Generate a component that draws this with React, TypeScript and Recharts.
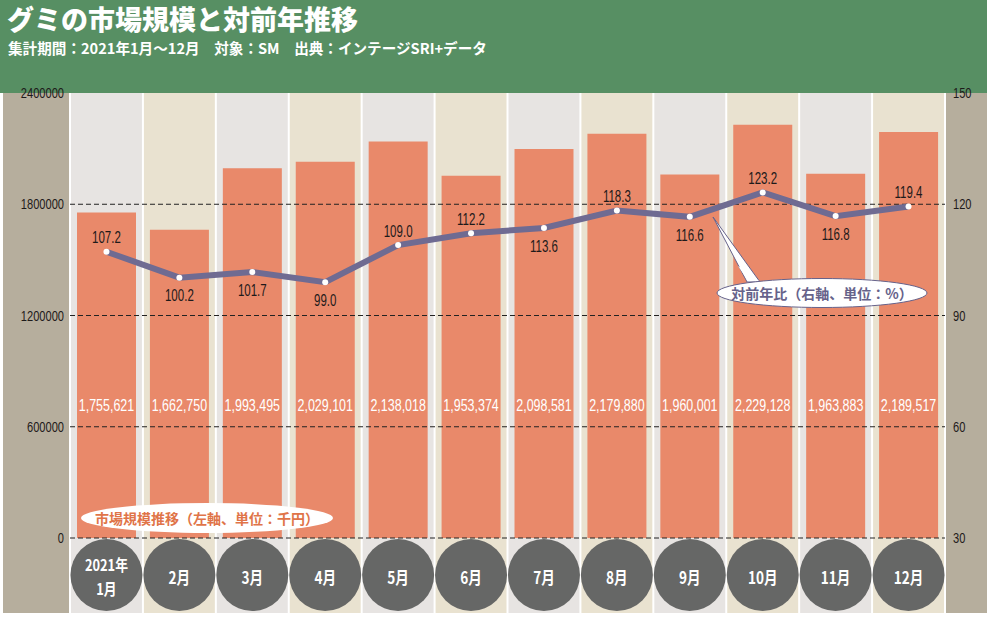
import React from "react";
import {
  ComposedChart,
  Bar,
  Line,
  XAxis,
  YAxis,
  ReferenceArea,
  ReferenceLine,
  LabelList,
} from "recharts";

// data
const months = ["1月", "2月", "3月", "4月", "5月", "6月", "7月", "8月", "9月", "10月", "11月", "12月"];
const marketSize = [
  1755621, 1662750, 1993495, 2029101, 2138018, 1953374, 2098581, 2179880, 1960001, 2229128,
  1963883, 2189517,
];
const yoyRatio = [107.2, 100.2, 101.7, 99.0, 109.0, 112.2, 113.6, 118.3, 116.6, 123.2, 116.8, 119.4];
const leftTicks = [0, 600000, 1200000, 1800000, 2400000];
const rightTicks = [30, 60, 90, 120, 150];
// dashed guides: every left tick except the top edge
const gridTicks = [0, 600000, 1200000, 1800000];

// which side of the dot each ratio label sits on
const ratioLabelAbove = [true, false, false, false, true, true, false, true, false, true, false, true];

const W = 987;
const H = 618;
const HEADER_H = 93;
const ZERO_Y = 538;
const PLOT_BOTTOM = 613;

// the plot runs below the zero line to make room for the month circles
const below = (PLOT_BOTTOM - ZERO_Y) / (ZERO_Y - HEADER_H);
const leftDomain = [-below * 2400000, 2400000];
const rightDomain = [30 - below * 120, 150];

const NUM_FONT = "'Liberation Sans', Arial, sans-serif";
const JP_FONT = "'Noto Sans CJK JP', 'Noto Sans', sans-serif";

const BAR_COLOR = "#e9896a";
const LINE_COLOR = "#6f6b92";
const INK = "#1e1a1a";

const chartData = months.map((m, i) => ({
  month: m,
  size: marketSize[i],
  ratio: yoyRatio[i],
}));

function monthLines(i: number): string[] {
  return i === 0 ? ["2021年", months[0]] : [months[i]];
}

// condensed text: no narrow face is installed, so squeeze horizontally
function Narrow(props: {
  x: number;
  y: number;
  sx: number;
  anchor: "start" | "middle" | "end";
  size: number;
  fill: string;
  children: React.ReactNode;
  weight?: number;
  family?: string;
}) {
  return (
    <text
      transform={`translate(${props.x},${props.y}) scale(${props.sx},1)`}
      textAnchor={props.anchor}
      dominantBaseline="central"
      fill={props.fill}
      fontFamily={props.family ?? NUM_FONT}
      fontWeight={props.weight ?? 400}
      fontSize={props.size}
    >
      {props.children}
    </text>
  );
}

function LeftTick(props: any) {
  const { x, y, payload } = props;
  return (
    <Narrow x={x} y={y} sx={0.74} anchor="end" size={15} fill={INK}>
      {payload.value}
    </Narrow>
  );
}

function RightTick(props: any) {
  const { x, y, payload } = props;
  return (
    <Narrow x={x} y={y} sx={0.74} anchor="start" size={15} fill={INK}>
      {payload.value}
    </Narrow>
  );
}

function ColumnShape(props: any) {
  const { x, y, width, height, index } = props;
  const cx = x + width / 2;
  const cy = y + height - 38;
  const lines = monthLines(index);
  const two = lines.length > 1;
  return (
    <g>
      <rect
        x={x + 1}
        y={y}
        width={width - 2}
        height={height}
        fill={index % 2 === 0 ? "#e7e4e2" : "#e9e2d0"}
      />
      <circle cx={cx} cy={cy} r={36} fill="#666766" />
      {lines.map((t, k) => (
        <Narrow
          key={k}
          x={cx}
          y={cy + (!two ? 1 : k === 0 ? -11 : 12.5)}
          sx={0.8}
          anchor="middle"
          size={two ? 16 : 17}
          fill="#fff"
          weight={700}
          family={JP_FONT}
        >
          {t}
        </Narrow>
      ))}
    </g>
  );
}

function SizeLabel(props: any) {
  const { x, y, width, height, value } = props;
  return (
    <Narrow x={x + width / 2} y={y + height - 133} sx={0.78} anchor="middle" size={16} fill="#fff">
      {Number(value).toLocaleString("en-US")}
    </Narrow>
  );
}

function RatioLabel(props: any) {
  const { x, y, value, index } = props;
  const above = ratioLabelAbove[index];
  return (
    <Narrow x={x} y={above ? y - 14 : y + 18} sx={0.72} anchor="middle" size={16} fill={INK}>
      {Number(value).toFixed(1)}
    </Narrow>
  );
}

export default function App() {
  return (
    <div
      style={{
        position: "absolute",
        left: 0,
        top: 0,
        width: W,
        height: H,
        background: "#fff",
        overflow: "hidden",
      }}
    >
      <div
        style={{
          position: "absolute",
          left: 0,
          top: 0,
          width: W,
          height: HEADER_H,
          background: "#578f63",
          color: "#fff",
          fontFamily: JP_FONT,
          fontWeight: 900,
        }}
      >
        <div style={{ position: "absolute", left: 7, top: 1, fontSize: 27, lineHeight: "36px", whiteSpace: "nowrap" }}>
          グミの市場規模と対前年推移
        </div>
        <div
          style={{
            position: "absolute",
            left: 8,
            top: 38,
            fontSize: 14.6,
            fontWeight: 700,
            lineHeight: "20px",
            whiteSpace: "nowrap",
          }}
        >
          集計期間：2021年1月～12月　対象：SM　出典：インテージSRI+データ
        </div>
      </div>
      <div
        style={{
          position: "absolute",
          left: 3,
          top: HEADER_H,
          width: 66,
          height: PLOT_BOTTOM - HEADER_H,
          background: "#b6ae9d",
        }}
      />
      <div
        style={{
          position: "absolute",
          left: 946,
          top: HEADER_H,
          width: W - 946,
          height: PLOT_BOTTOM - HEADER_H,
          background: "#b6ae9d",
        }}
      />
      <div style={{ position: "absolute", left: 0, top: 0 }}>
        <ComposedChart
          width={W}
          height={H}
          data={chartData}
          margin={{ top: HEADER_H, right: 0, bottom: H - PLOT_BOTTOM, left: 0 }}
        >
          <XAxis dataKey="month" hide />
          <YAxis
            yAxisId="left"
            width={70}
            domain={leftDomain}
            ticks={leftTicks}
            allowDataOverflow
            axisLine={false}
            tickLine={false}
            tickSize={0}
            tickMargin={6}
            tick={LeftTick}
          />
          <YAxis
            yAxisId="right"
            orientation="right"
            width={42}
            domain={rightDomain}
            ticks={rightTicks}
            allowDataOverflow
            axisLine={false}
            tickLine={false}
            tickSize={0}
            tickMargin={8}
            tick={RightTick}
          />
          {months.map((m, i) => (
            <ReferenceArea
              key={m}
              yAxisId="left"
              x1={m}
              x2={m}
              ifOverflow="visible"
              shape={(p: any) => <ColumnShape {...p} index={i} />}
            />
          ))}
          <Bar yAxisId="left" dataKey="size" fill={BAR_COLOR} barSize={59} isAnimationActive={false}>
            <LabelList dataKey="size" content={SizeLabel} />
          </Bar>
          {gridTicks.map((t) => (
            <ReferenceLine
              key={t}
              yAxisId="left"
              y={t}
              stroke="#222"
              strokeWidth={1}
              strokeDasharray="5 3"
            />
          ))}
          <Line
            yAxisId="right"
            type="linear"
            dataKey="ratio"
            stroke={LINE_COLOR}
            strokeWidth={6}
            dot={{ r: 3, fill: "#fff", stroke: "none" }}
            activeDot={false}
            isAnimationActive={false}
          >
            <LabelList dataKey="ratio" content={RatioLabel} />
          </Line>
        </ComposedChart>
      </div>
      <svg
        width={W}
        height={H}
        style={{ position: "absolute", left: 0, top: 0, pointerEvents: "none" }}
      >
        <ellipse cx={207} cy={518} rx={126} ry={15} fill="#fff" />
        <text
          x={207}
          y={518}
          textAnchor="middle"
          dominantBaseline="central"
          fill="#e07448"
          fontFamily={JP_FONT}
          fontWeight={700}
          fontSize={14}
        >
          市場規模推移（左軸、単位：千円）
        </text>
        <polygon points="713,217 747,282 760,282" fill="#fff" stroke="#66628a" strokeWidth={1} />
        <ellipse cx={822} cy={293} rx={105} ry={14.5} fill="#fff" stroke="#66628a" strokeWidth={1} />
        <polygon points="738,266 748,281 759,281" fill="#fff" />
        <text
          x={822}
          y={293}
          textAnchor="middle"
          dominantBaseline="central"
          fill="#66628a"
          fontFamily={JP_FONT}
          fontWeight={700}
          fontSize={14}
        >
          対前年比（右軸、単位：%）
        </text>
      </svg>
    </div>
  );
}
